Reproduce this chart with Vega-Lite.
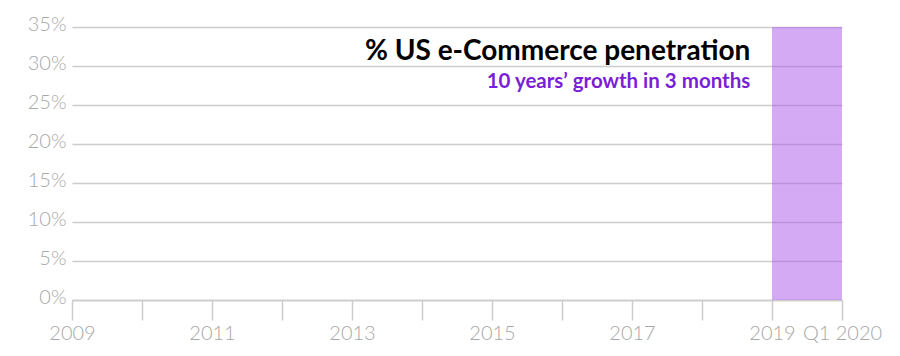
{
  "$schema": "https://vega.github.io/schema/vega-lite/v6.json",
  "width": 770,
  "height": 273,
  "autosize": "none",
  "padding": {"left": 72, "top": 27, "right": 58, "bottom": 56},
  "background": "white",
  "config": {
    "view": {"stroke": null},
    "font": "Lato"
  },
  "datasets": {
    "band": [{"period": "Q1 2020 surge", "start": 2019, "end": 2020, "low": 0, "high": 35}],
    "notes": [
      {"text": "% US e-Commerce penetration", "kind": "title", "start": 2018.69, "low": 30.77},
      {"text": "10 years’ growth in 3 months", "kind": "subtitle", "start": 2018.69, "low": 27.18}
    ]
  },
  "encoding": {
    "x": {
      "field": "start", "type": "quantitative",
      "scale": {"domain": [2009, 2020], "nice": false, "zero": false},
      "axis": {
        "title": null,
        "values": [2009, 2010, 2011, 2012, 2013, 2014, 2015, 2016, 2017, 2018, 2019, 2020],
        "labelExpr": "datum.value == 2020 ? 'Q1 2020' : (datum.value % 2 == 1 ? format(datum.value, 'd') : '')",
        "grid": false,
        "domainColor": "#cccccc",
        "domainWidth": 1.5,
        "tickColor": "#cccccc",
        "tickWidth": 1.5,
        "tickSize": 20,
        "labelPadding": 3,
        "labelFont": "Lato",
        "labelFontWeight": 300,
        "labelFontSize": 20,
        "labelColor": "#a8a8a8",
        "labelFlush": false,
        "labelOverlap": false
      }
    },
    "y": {
      "field": "low", "type": "quantitative",
      "scale": {"domain": [0, 35], "nice": false},
      "axis": {
        "title": null,
        "values": [0, 5, 10, 15, 20, 25, 30, 35],
        "labelExpr": "datum.value + '%'",
        "domain": false,
        "ticks": false,
        "labelPadding": 6,
        "labelOffset": -3,
        "labelFont": "Lato",
        "labelFontWeight": 300,
        "labelFontSize": 20,
        "labelColor": "#a8a8a8",
        "labelOverlap": false,
        "labelFlush": false,
        "gridColor": "#cccccc",
        "gridWidth": 1.5
      }
    }
  },
  "layer": [
    {
      "data": {"name": "band"},
      "mark": {"type": "rect", "color": "#a855e8", "opacity": 0.5},
      "encoding": {
        "x2": {"field": "end"},
        "y2": {"field": "high"}
      }
    },
    {
      "data": {"name": "notes"},
      "transform": [{"filter": "datum.kind == 'title'"}],
      "mark": {"type": "text", "align": "right", "baseline": "alphabetic", "font": "Lato", "fontWeight": "bold", "fontSize": 28, "color": "#000000"},
      "encoding": {
        "text": {"field": "text"}
      }
    },
    {
      "data": {"name": "notes"},
      "transform": [{"filter": "datum.kind == 'subtitle'"}],
      "mark": {"type": "text", "align": "right", "baseline": "alphabetic", "font": "Lato", "fontWeight": "bold", "fontSize": 20.5, "color": "#7a1fd6"},
      "encoding": {
        "text": {"field": "text"}
      }
    }
  ]
}
